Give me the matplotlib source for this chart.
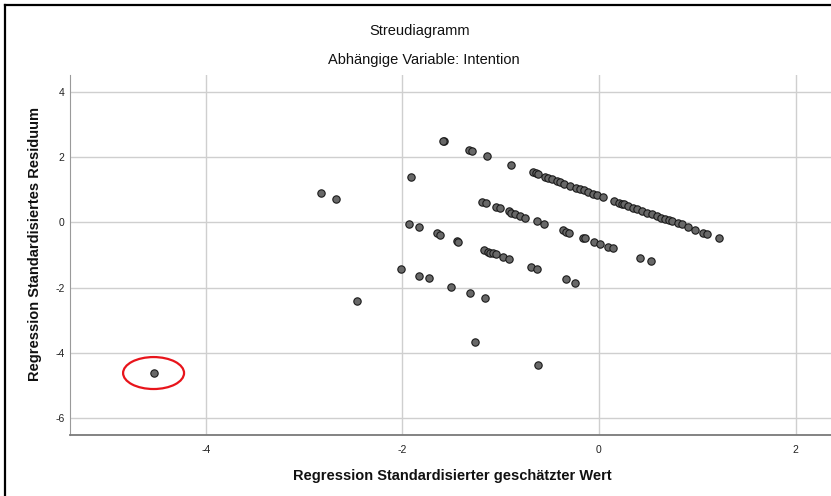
import matplotlib
matplotlib.use("Agg")
import matplotlib.pyplot as plt
from matplotlib.patches import Ellipse
from matplotlib.lines import Line2D

plt.rcParams['font.family'] = ['Liberation Sans', 'DejaVu Sans']

title = "Streudiagramm"
subtitle = "Abhängige Variable: Intention"
x_label = "Regression Standardisierter geschätzter Wert"
y_label = "Regression Standardisiertes Residuum"
x_ticks = [-4, -2, 0, 2]
y_ticks = [4, 2, 0, -2, -4, -6]

# scattered points
x_single = [-4.53, -2.83, -2.67, -2.46, -2.01, -1.93, -1.91, -1.83, -1.83, -1.73,
            -1.65, -1.62, -1.58, -1.59, -1.50, -1.44, -1.43, -1.32, -1.29, -1.31,
            -1.26, -1.16, -1.14, -0.89, -0.62, 0.42, 0.53, -0.34, -0.24, -0.69, -0.63]
y_single = [-4.62, 0.91, 0.73, -2.41, -1.43, -0.04, 1.40, -0.15, -1.63, -1.72,
            -0.34, -0.38, 2.51, 2.50, -1.98, -0.58, -0.60, 2.23, 2.19, -2.17,
            -3.68, -2.33, 2.04, 1.77, -4.38, -1.08, -1.19, -1.75, -1.85, -1.36, -1.44]

# lower band
x_band3 = [-1.17, -1.13, -1.11, -1.08, -1.05, -0.98, -0.92]
y_band3 = [-0.86, -0.90, -0.93, -0.95, -0.98, -1.06, -1.12]

# middle band
x_band2 = [-1.19, -1.15, -1.05, -1.01, -0.92, -0.89, -0.85, -0.80, -0.75, -0.63,
           -0.56, -0.37, -0.34, -0.30, -0.16, -0.14, -0.05, 0.01, 0.09, 0.14]
y_band2 = [0.62, 0.59, 0.48, 0.44, 0.34, 0.30, 0.26, 0.21, 0.15, 0.03,
           -0.04, -0.24, -0.29, -0.33, -0.47, -0.49, -0.60, -0.67, -0.74, -0.78]

# upper band
x_band1 = [-0.67, -0.64, -0.62, -0.55, -0.52, -0.48, -0.43, -0.40, -0.36, -0.29,
           -0.23, -0.19, -0.15, -0.11, -0.06, -0.02, 0.04, 0.15, 0.20, 0.23,
           0.25, 0.30, 0.35, 0.39, 0.44, 0.49, 0.54, 0.59, 0.63, 0.67,
           0.71, 0.74, 0.80, 0.84, 0.91, 0.98, 1.06, 1.10, 1.22]
y_band1 = [1.54, 1.51, 1.47, 1.39, 1.36, 1.32, 1.27, 1.24, 1.19, 1.13,
           1.07, 1.03, 0.98, 0.93, 0.88, 0.83, 0.77, 0.66, 0.59, 0.57,
           0.55, 0.50, 0.44, 0.40, 0.35, 0.30, 0.25, 0.19, 0.14, 0.10,
           0.06, 0.03, -0.02, -0.06, -0.14, -0.22, -0.31, -0.35, -0.48]

xs = x_single + x_band3 + x_band2 + x_band1
ys = y_single + y_band3 + y_band2 + y_band1

W, H = 831, 496
fig = plt.figure(figsize=(W / 100, H / 100), dpi=100)

ax_l, ax_r, ax_t, ax_b = 70, 831, 75, 435
ax = fig.add_axes([ax_l / W, 1 - ax_b / H, (ax_r - ax_l) / W, (ax_b - ax_t) / H])
ax.set_xlim(-5.38, 2.36)
ax.set_ylim(-6.52, 4.52)

ax.set_xticks(x_ticks)
ax.set_yticks(y_ticks)
ax.set_xticklabels([str(t) for t in x_ticks])
ax.set_yticklabels([str(t) for t in y_ticks])
ax.grid(True, color='#cfcfcf', linewidth=1.0)
ax.set_axisbelow(True)
ax.tick_params(length=0, labelsize=7.5, colors='#222222')
ax.tick_params(axis='x', pad=7)
ax.tick_params(axis='y', pad=4)

for s in ['top', 'right']:
    ax.spines[s].set_visible(False)
ax.spines['left'].set_color('#9a9a9a')
ax.spines['bottom'].set_color('#7a7a7a')
ax.spines['bottom'].set_linewidth(1.3)

ax.scatter(xs, ys, s=28, facecolor='#686868', edgecolor='#1a1a1a', linewidth=0.8, zorder=3)

ax.add_patch(Ellipse((-4.53, -4.62), 0.62, 0.98, fill=False, edgecolor='#e8141b', linewidth=1.6, zorder=4))

fig.text(420 / W, 1 - 31 / H, title, ha='center', va='center', fontsize=10.5, color='#111111')
fig.text(424 / W, 1 - 60 / H, subtitle, ha='center', va='center', fontsize=10.5, color='#111111')
fig.text(452 / W, 1 - 476 / H, x_label, ha='center', va='center', fontsize=10.5, fontweight='bold', color='#111111')
fig.text(35 / W, 1 - 244 / H, y_label, ha='center', va='center', rotation=90, fontsize=10.5, fontweight='bold', color='#111111')

# outer frame
fig.add_artist(Line2D([5 / W, 5 / W], [0, 1 - 5 / H], color='black', linewidth=1.6, transform=fig.transFigure))
fig.add_artist(Line2D([5 / W, 1], [1 - 5 / H, 1 - 5 / H], color='black', linewidth=1.6, transform=fig.transFigure))

fig.savefig("out.png", dpi=100)
